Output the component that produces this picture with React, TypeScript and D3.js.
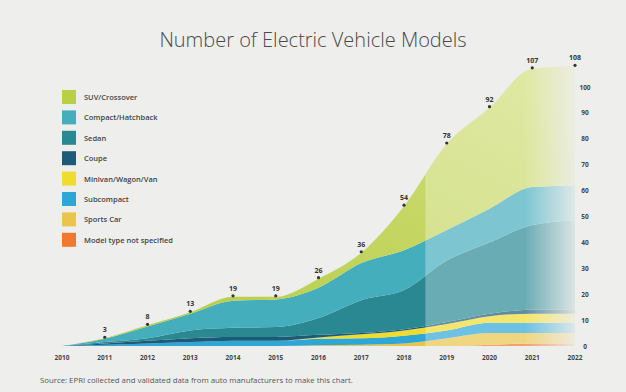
import React from "react";
import * as d3 from "d3";

const years = [2010, 2011, 2012, 2013, 2014, 2015, 2016, 2017, 2018, 2019, 2020, 2021, 2022];
const totals = [0, 3, 8, 13, 19, 19, 26, 36, 54, 78, 92, 107, 108];
const notSpecified = [0, 0, 0, 0, 0, 0, 0, 0, 0, 0, 0.5, 1, 1];
const sportsCar = [0, 0, 0, 0, 0, 0, 0.3, 0.5, 1, 3, 4.5, 4, 4];
const subcompact = [0, 0.5, 1, 1.5, 2, 2, 2.5, 2.5, 3, 3, 4, 4, 4];
const minivan = [0, 0, 0, 0, 0, 0, 0.5, 1.5, 2, 2.5, 2.5, 3.5, 3.5];
const coupe = [0, 0.5, 1, 1.5, 1.5, 1.5, 1, 0.5, 0.5, 0.8, 1, 1.5, 1.5];
const sedan = [0, 0.5, 1, 3, 3.5, 3.8, 6.5, 12.7, 15.1, 23.7, 27.5, 32.7, 34.6];
const compact = [0, 1.3, 4.5, 6.5, 10.5, 10.7, 11.7, 14.3, 15.4, 11.8, 13, 14.7, 13.4];
const yTicks = [0, 10, 20, 30, 40, 50, 60, 70, 80, 90, 100];

const seriesNames = [
  "Model type not specified",
  "Sports Car",
  "Subcompact",
  "Minivan/Wagon/Van",
  "Coupe",
  "Sedan",
  "Compact/Hatchback",
  "SUV/Crossover",
];
const seriesColors = ["#ef7a2e", "#e9c54a", "#2ea6d6", "#efdc2e", "#1c5b78", "#2a8893", "#45aebd", "#b9cf45"];

export default function App() {
  const W = 626, H = 392;
  const x = d3.scaleLinear().domain([2010, 2022]).range([62, 575]);
  const y = d3.scaleLinear().domain([0, 100]).range([346, 87]);

  const suv = totals.map((t, i) =>
    t - (notSpecified[i] + sportsCar[i] + subcompact[i] + minivan[i] + coupe[i] + sedan[i] + compact[i])
  );
  const seriesVals = [notSpecified, sportsCar, subcompact, minivan, coupe, sedan, compact, suv];
  const table = years.map((yr, i) => {
    const row: any = { year: yr };
    seriesNames.forEach((n, k) => (row[n] = Math.max(0, seriesVals[k][i])));
    return row;
  });
  const stacked = d3.stack().keys(seriesNames)(table as any);
  const area = d3
    .area<any>()
    .x((d) => x(d.data.year))
    .y0((d) => y(d[0]))
    .y1((d) => y(d[1]))
    .curve(d3.curveMonotoneX);
  const topArea = d3
    .area<any>()
    .x((d, i) => x(years[i]))
    .y0(() => y(0))
    .y1((d) => y(d))
    .curve(d3.curveMonotoneX);

  const legendOrder = [...seriesNames].reverse();
  const legendColors = [...seriesColors].reverse();
  const font = "'Open Sans', 'Noto Sans', sans-serif";

  return (
    <svg width={W} height={H} style={{ position: "absolute", left: 0, top: 0 }}>
      <defs>
        <linearGradient id="fade" gradientUnits="userSpaceOnUse" x1={525} x2={580} y1={0} y2={0}>
          <stop offset="0" stopColor="#fff" stopOpacity={1} />
          <stop offset="1" stopColor="#fff" stopOpacity={0.05} />
        </linearGradient>
        <mask id="fadeMask" maskUnits="userSpaceOnUse" x={0} y={0} width={W} height={H}>
          <rect x={0} y={0} width={W} height={H} fill="url(#fade)" />
        </mask>
        <clipPath id="proj">
          <rect x={x(2018.5)} y={0} width={W} height={H} />
        </clipPath>
        <linearGradient id="suvGrad" x1="0" y1="1" x2="1" y2="0">
          <stop offset="0" stopColor="#b2ca40" />
          <stop offset="1" stopColor="#d4e07e" />
        </linearGradient>
      </defs>
      <rect x={0} y={0} width={W} height={H} fill="#eeeeec" />
      <text x={313} y={47} textAnchor="middle" fontFamily={font} fontSize={20} fontWeight={300} fill="#4a4a4a">
        Number of Electric Vehicle Models
      </text>

      <g mask="url(#fadeMask)">
        {stacked.map((s, k) => (
          <path key={seriesNames[k]} d={area(s as any) || ""} fill={k === 7 ? "url(#suvGrad)" : seriesColors[k]} />
        ))}
        <path d={topArea(totals as any) || ""} fill="#ffffff" opacity={0.3} clipPath="url(#proj)" />
      </g>

      {years.map((yr, i) =>
        i === 0 ? null : (
          <g key={"pt" + yr}>
            <circle cx={x(yr)} cy={y(totals[i]) - 1} r={1.6} fill="#333" />
            <text x={x(yr)} y={y(totals[i]) - 6} textAnchor="middle" fontFamily={font} fontSize={7} fontWeight={700} fill="#333">
              {totals[i]}
            </text>
          </g>
        )
      )}

      {yTicks.map((t) => (
        <text key={"yt" + t} x={585} y={y(t) + 2.5} textAnchor="middle" fontFamily={font} fontSize={6.5} fontWeight={700} fill="#444">
          {t}
        </text>
      ))}
      {years.map((yr) => (
        <text key={"xt" + yr} x={x(yr)} y={360} textAnchor="middle" fontFamily={font} fontSize={6.5} fontWeight={700} fill="#444">
          {yr}
        </text>
      ))}

      {legendOrder.map((n, i) => (
        <g key={"lg" + n}>
          <rect x={62} y={90 + i * 20.4} width={14} height={14} fill={legendColors[i]} />
          <text x={84} y={100 + i * 20.4} fontFamily={font} fontSize={7.5} fontWeight={600} fill="#444">
            {n}
          </text>
        </g>
      ))}

      <text x={40} y={383} fontFamily={font} fontSize={7.8} fill="#555">
        Source: EPRI collected and validated data from auto manufacturers to make this chart.
      </text>
    </svg>
  );
}
